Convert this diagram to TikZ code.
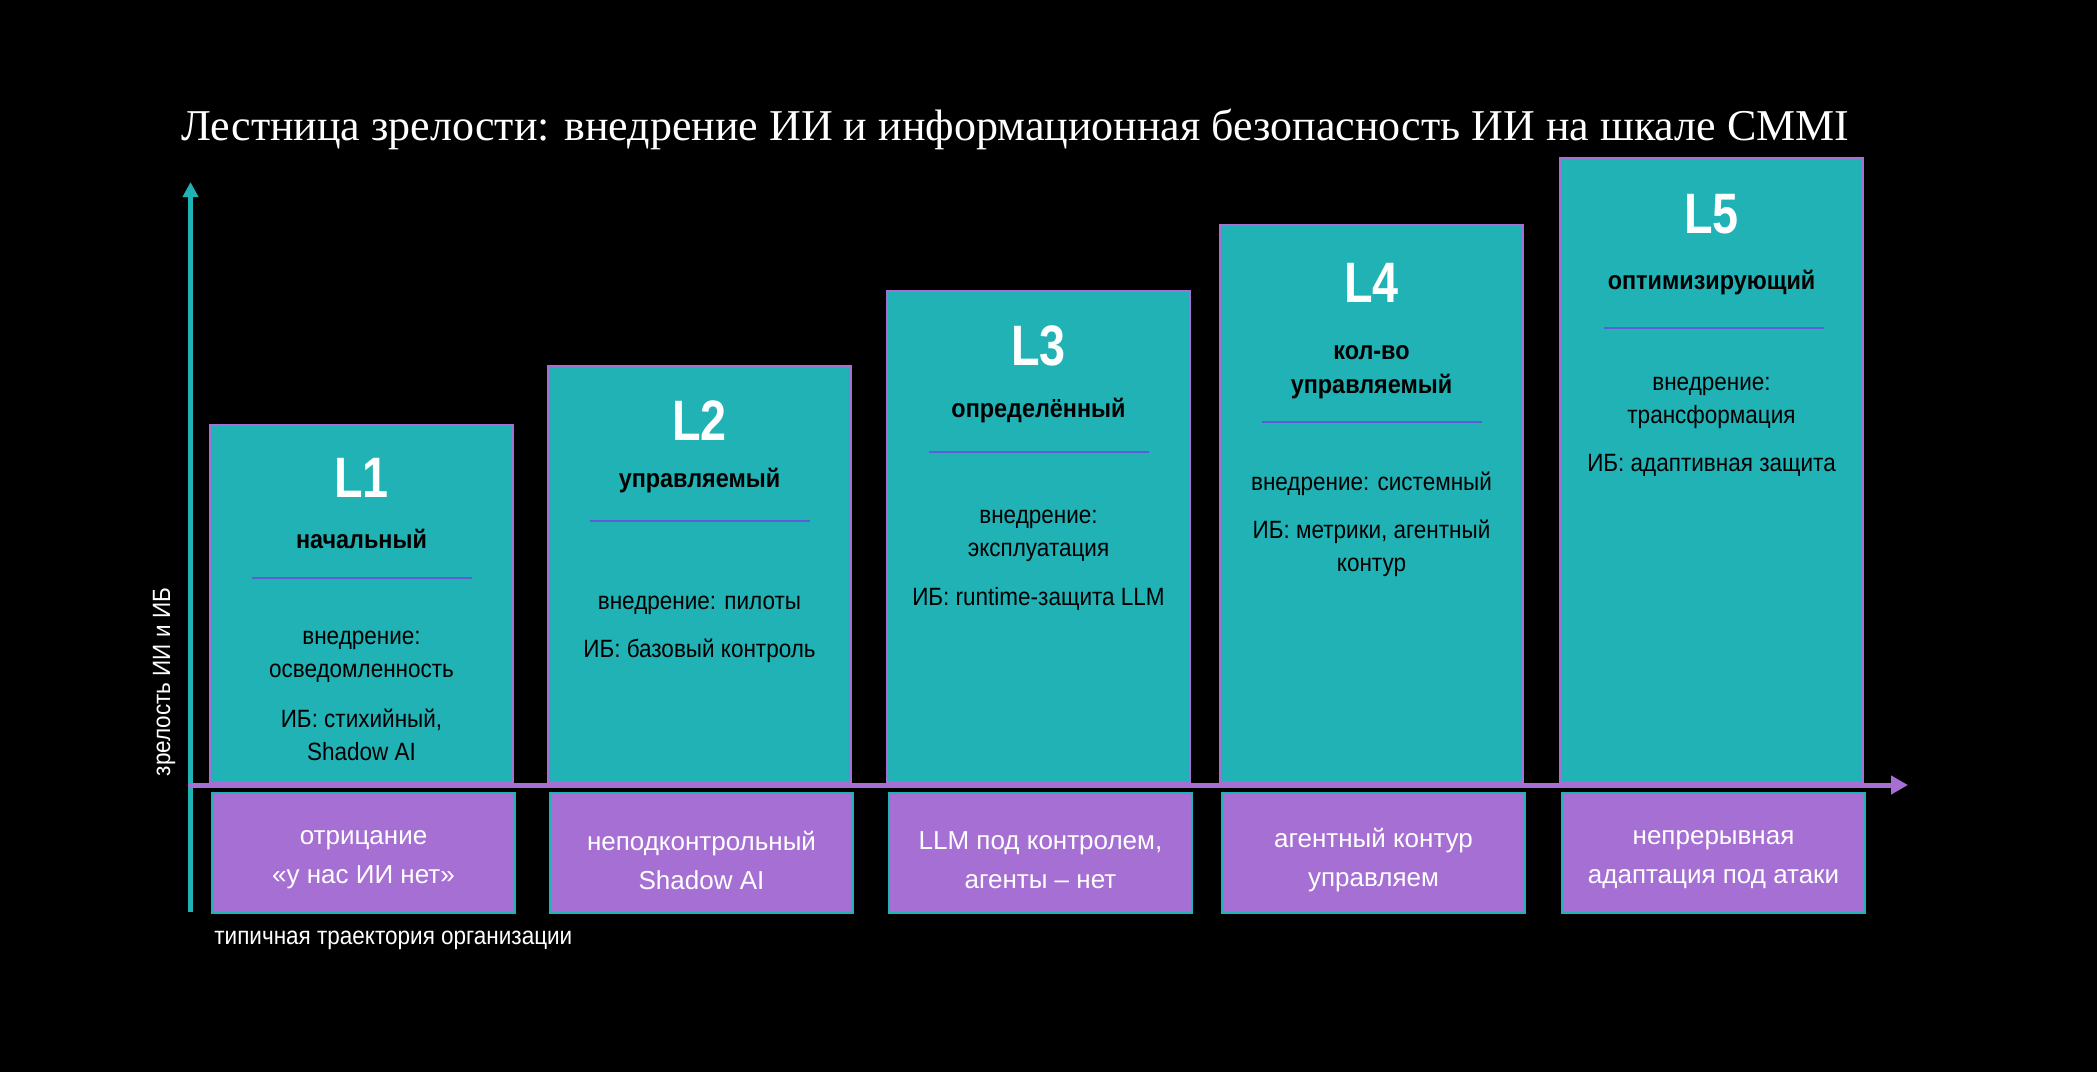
\documentclass[tikz,border=0pt]{standalone}
\usepackage{fontspec}
\setmainfont{Liberation Serif}
\newfontfamily\tsans[FakeStretch=0.9]{Liberation Sans}
\newfontfamily\lsans[FakeStretch=0.82]{Liberation Sans}
\newfontfamily\psans{Liberation Sans}
\usetikzlibrary{arrows.meta}
\definecolor{teal1}{RGB}{33,178,181}
\definecolor{purp1}{RGB}{166,111,211}
\definecolor{sepc}{RGB}{98,92,212}
\tikzset{
  tealbox/.style={draw=purp1, line width=1pt, fill=teal1, minimum width=151.5pt, anchor=north west, inner sep=0pt, outer sep=0pt},
  purpbox/.style={draw=teal1, line width=1.2pt, fill=purp1, minimum width=151.5pt, minimum height=60pt, anchor=north west, inner sep=0pt, outer sep=0pt},
  ptext/.style={font=\psans\fontsize{13}{19.5}\selectfont, text=white, align=center, inner sep=0pt},
  lvl/.style={font=\lsans\bfseries\fontsize{28.5}{30}\selectfont, text=white, inner sep=0pt},
  lname/.style={font=\tsans\bfseries\fontsize{13}{17}\selectfont, text=black, align=center, inner sep=0pt},
  body/.style={font=\tsans\fontsize{12.5}{16.5}\selectfont, text=black, align=center, inner sep=0pt},
  axlabel/.style={font=\tsans\fontsize{12.5}{15}\selectfont, text=white, inner sep=0pt},
  sepline/.style={draw=sepc, line width=0.6pt}
}
\begin{document}
\begin{tikzpicture}[x=0.5pt,y=-0.5pt]
\fill[black] (0,0) rectangle (2097,1072);
\useasboundingbox (0,0) rectangle (2097,1072);

% title
\node (title) [anchor=base west, inner sep=0pt, text=white, font=\fontsize{22}{26}\selectfont] at (181,140)
  {Лестница зрелости: внедрение ИИ и информационная безопасность ИИ на шкале CMMI};

% teal boxes
\node (b1) [tealbox, minimum height=178.5pt] at (210,425) {};
\node (b2) [tealbox, minimum height=208pt]   at (548,366) {};
\node (b3) [tealbox, minimum height=245.5pt] at (887,291) {};
\node (b4) [tealbox, minimum height=278.5pt] at (1220,225) {};
\node (b5) [tealbox, minimum height=312pt]   at (1560,158) {};

% axes
\coordinate (ybot) at (190.5,912);
\coordinate (ytip) at (190.5,182);
\coordinate (xstart) at (188,785);
\coordinate (xtip) at (1908,785);
\draw[teal1, line width=2.25pt, -{Triangle[length=7.5pt,width=7.5pt]}] (ybot) -- (ytip);
\draw[purp1, line width=2.5pt, -{Triangle[length=8.5pt,width=9pt]}] (xstart) -- (xtip);

% purple boxes
\node (p1) [purpbox] at (212,793) {};
\node (p2) [purpbox] at (550,793) {};
\node (p3) [purpbox] at (889,793) {};
\node (p4) [purpbox] at (1222,793) {};
\node (p5) [purpbox] at (1562,793) {};
\node (t1) [ptext] at (363.5,860) {отрицание\\«у нас ИИ нет»};
\node (t2) [ptext] at (701.5,860) {неподконтрольный\\Shadow AI};
\node (t3) [ptext] at (1040.5,860) {LLM под контролем,\\агенты – нет};
\node (t4) [ptext] at (1373.5,860) {агентный контур\\управляем};
\node (t5) [ptext] at (1713.5,860) {непрерывная\\адаптация под атаки};

% L1
\node (l1) [lvl] at (361.5,478) {L1};
\node (n1) [lname] at (361.5,539) {начальный};
\draw[sepline] (251.5,578) -- (471.5,578);
\node (d1) [body] at (361.5,657) {внедрение:\\осведомленность};
\node (s1) [body] at (361.5,735) {ИБ: стихийный,\\Shadow AI};

% L2
\node (l2) [lvl] at (699.5,421) {L2};
\node (n2) [lname] at (699.5,481) {управляемый};
\draw[sepline] (589.5,521) -- (809.5,521);
\node (d2) [body] at (699.5,605) {внедрение: пилоты};
\node (s2) [body] at (699.5,651) {ИБ: базовый контроль};

% L3
\node (l3) [lvl] at (1038.5,346) {L3};
\node (n3) [lname] at (1038.5,411) {определённый};
\draw[sepline] (928.5,452) -- (1148.5,452);
\node (d3) [body] at (1038.5,536) {внедрение:\\эксплуатация};
\node (s3) [body] at (1038.5,599) {ИБ: runtime-защита LLM};

% L4
\node (l4) [lvl] at (1371.5,283) {L4};
\node (n4) [lname] at (1371.5,372) {кол-во\\управляемый};
\draw[sepline] (1261.5,422) -- (1481.5,422);
\node (d4) [body] at (1371.5,484) {внедрение: системный};
\node (s4) [body] at (1371.5,548) {ИБ: метрики, агентный\\контур};

% L5
\node (l5) [lvl] at (1711.5,214) {L5};
\node (n5) [lname] at (1711.5,283) {оптимизирующий};
\draw[sepline] (1603.5,328) -- (1823.5,328);
\node (d5) [body] at (1711.5,403) {внедрение:\\трансформация};
\node (s5) [body] at (1711.5,465) {ИБ: адаптивная защита};

% axis labels
\node (ylab) [axlabel, rotate=90] at (164,682) {зрелость ИИ и ИБ};
\node (xlab) [axlabel, anchor=west] at (214,940) {типичная траектория организации};
\end{tikzpicture}
\end{document}
